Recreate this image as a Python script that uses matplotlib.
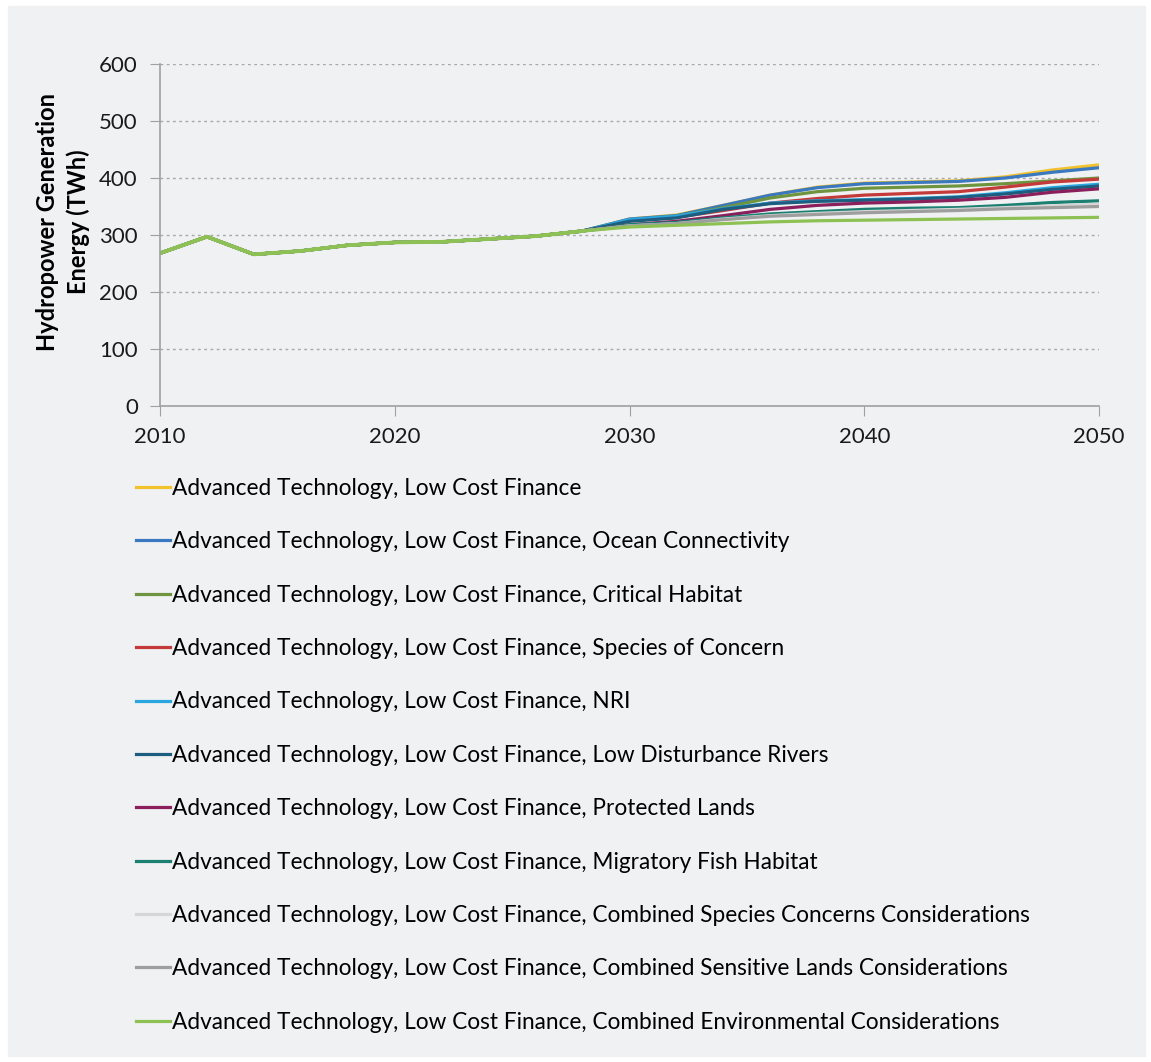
import numpy as np
import matplotlib.pyplot as plt
from matplotlib.patches import Rectangle

plt.rcParams['font.family'] = ['Lato', 'DejaVu Sans']

# years, every 2 years
years = list(range(2010, 2052, 2))
# shared history 2010-2026
base = [268, 297, 266, 272, 282, 287, 288, 293, 298]

# scenario values 2028-2050
names = [
    "Advanced Technology, Low Cost Finance",
    "Advanced Technology, Low Cost Finance, Ocean Connectivity",
    "Advanced Technology, Low Cost Finance, Critical Habitat",
    "Advanced Technology, Low Cost Finance, Species of Concern",
    "Advanced Technology, Low Cost Finance, NRI",
    "Advanced Technology, Low Cost Finance, Low Disturbance Rivers",
    "Advanced Technology, Low Cost Finance, Protected Lands",
    "Advanced Technology, Low Cost Finance, Migratory Fish Habitat",
    "Advanced Technology, Low Cost Finance, Combined Species Concerns Considerations",
    "Advanced Technology, Low Cost Finance, Combined Sensitive Lands Considerations",
    "Advanced Technology, Low Cost Finance, Combined Environmental Considerations",
]
at_lcf      = [307, 328, 335, 352, 370, 384, 391, 393, 395, 402, 414, 423]
ocean       = [307, 328, 334, 352, 370, 383, 390, 392, 394, 400, 410, 418]
critical    = [307, 326, 333, 348, 365, 376, 382, 384, 386, 390, 395, 400]
species     = [307, 325, 331, 343, 356, 364, 370, 373, 376, 384, 393, 398]
nri         = [307, 327, 333, 346, 356, 360, 362, 364, 367, 374, 383, 389]
low_dist    = [307, 324, 330, 345, 355, 359, 361, 363, 366, 372, 380, 386]
protected   = [307, 318, 324, 334, 345, 352, 356, 358, 361, 366, 375, 381]
migratory   = [307, 318, 322, 330, 337, 341, 345, 347, 348, 352, 357, 360]
comb_spec   = [307, 316, 320, 328, 334, 338, 341, 343, 345, 348, 351, 354]
comb_lands  = [307, 316, 320, 327, 333, 336, 339, 341, 343, 346, 348, 350]
comb_env    = [307, 314, 317, 320, 323, 325, 326, 327, 328, 329, 330, 331]

series = [at_lcf, ocean, critical, species, nri, low_dist, protected,
          migratory, comb_spec, comb_lands, comb_env]
colors = ['#f2c12e', '#3a78c0', '#6f9440', '#c43a3a', '#2aa7de', '#1d5e80',
          '#8a1f5c', '#1b7f72', '#d6d6d6', '#9e9e9e', '#8dc153']

fig = plt.figure(figsize=(11.51, 10.62), dpi=100, facecolor='white')
fig.patches.append(Rectangle((8 / 1151, 6 / 1062), 1137 / 1151, 1050 / 1062,
                             transform=fig.transFigure, color='#f0f1f3', zorder=-10))

ax = fig.add_axes([160 / 1151, 1 - 406 / 1062, 939 / 1151, 342 / 1062])
ax.set_facecolor('none')

lines = []
for vals, name, c in zip(series, names, colors):
    y = base + vals
    ln, = ax.plot(years, y, color=c, lw=2.3, label=name)
    lines.append(ln)
# combined environmental line drawn on top over the shared history
ax.plot(years[:10], (base + comb_env)[:10], color='#8dc153', lw=2.7)

ax.set_xlim(2010, 2050)
ax.set_ylim(0, 600)
ax.set_xticks([2010, 2020, 2030, 2040, 2050])
ax.set_yticks(range(0, 700, 100))
ax.grid(axis='y', color='#a8a8a8', linestyle=(0, (2, 2.5)), lw=1)
ax.set_axisbelow(True)
for s in ['top', 'right']:
    ax.spines[s].set_visible(False)
for s in ['left', 'bottom']:
    ax.spines[s].set_color('#a0a0a0')
    ax.spines[s].set_linewidth(1.2)
ax.tick_params(axis='both', colors='#a0a0a0', labelcolor='#1a1a1a', labelsize=16, length=7)
ax.tick_params(axis='x', pad=8)
ax.tick_params(axis='y', pad=9)

fig.text(63 / 1151, 1 - 222 / 1062, 'Hydropower Generation\nEnergy (TWh)', rotation=90,
         ha='center', va='center', fontsize=17, fontweight='bold', linespacing=1.38)

fig.legend(handles=lines, loc='upper left', bbox_to_anchor=(136 / 1151, 1 - 478 / 1062),
           frameon=False, fontsize=16.3, handlelength=1.5, handletextpad=0.1,
           labelspacing=1.43, borderaxespad=0, borderpad=0)

plt.savefig('out.png', dpi=100, facecolor='white')
